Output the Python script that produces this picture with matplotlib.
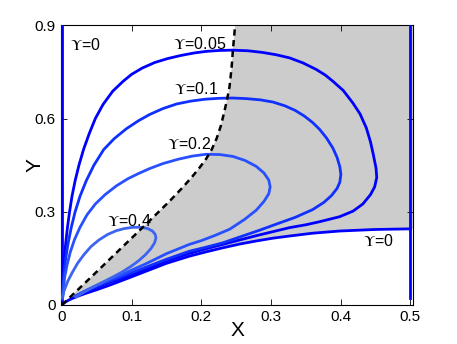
import numpy
import matplotlib
matplotlib.use("Agg")
import matplotlib.pyplot

matplotlib.rcParams["font.family"] = ["Liberation Sans", "DejaVu Sans"]
matplotlib.rcParams["mathtext.fontset"] = "stix"

# Upsilon = 0 : two vertical lines and the lower boundary curve
ups0_left_x = [0.0, 0.0]
ups0_left_y = [0.016, 0.9]
ups0_right_x = [0.5, 0.5]
ups0_right_y = [0.022, 0.9]
ups0_bottom_x = [0.0, 0.004, 0.01, 0.02, 0.035, 0.05, 0.07, 0.09, 0.12, 0.15, 0.183, 0.207, 0.231, 0.255,
                 0.279, 0.303, 0.327, 0.36, 0.3986, 0.45, 0.5]
ups0_bottom_y = [0.0, 0.008, 0.016, 0.026, 0.038, 0.049, 0.065, 0.082, 0.108, 0.134, 0.157, 0.171, 0.184, 0.196,
                 0.206, 0.215, 0.222, 0.231, 0.238, 0.243, 0.245]

ups005_x = [0.001, 0.0012, 0.002, 0.0035, 0.0055, 0.008, 0.011, 0.0145, 0.019, 0.0245, 0.031, 0.039, 0.048,
            0.059, 0.073, 0.088, 0.1, 0.115, 0.133, 0.152, 0.171, 0.19, 0.207, 0.226, 0.245, 0.267, 0.2885,
            0.308, 0.327, 0.346, 0.365, 0.378, 0.389, 0.404, 0.4177, 0.428, 0.437, 0.443, 0.447, 0.451, 0.452,
            0.449, 0.443, 0.432, 0.418, 0.3986, 0.37, 0.35, 0.327, 0.303, 0.279, 0.255, 0.231, 0.207, 0.183,
            0.15, 0.12, 0.09, 0.065, 0.045, 0.03, 0.02]
ups005_y = [0.02, 0.05, 0.1, 0.15, 0.2, 0.25, 0.3, 0.35, 0.4, 0.45, 0.5, 0.55, 0.6,
            0.645, 0.688, 0.72, 0.742, 0.762, 0.78, 0.793, 0.803, 0.811, 0.816, 0.819, 0.82, 0.818, 0.8125,
            0.805, 0.795, 0.779, 0.758, 0.74, 0.72, 0.69, 0.65, 0.615, 0.57, 0.525, 0.485, 0.44, 0.41,
            0.38, 0.355, 0.325, 0.302, 0.284, 0.268, 0.258, 0.249, 0.236, 0.223, 0.209, 0.195, 0.181, 0.166,
            0.142, 0.115, 0.09, 0.07, 0.053, 0.038, 0.027]

ups01_x = [0.001, 0.0015, 0.003, 0.0055, 0.009, 0.0135, 0.019, 0.026, 0.035, 0.046, 0.06, 0.075, 0.0925, 0.11,
           0.126, 0.145, 0.165, 0.185, 0.205, 0.225, 0.245, 0.265, 0.285, 0.303, 0.32, 0.335, 0.348, 0.36,
           0.37, 0.38, 0.389, 0.395, 0.399, 0.4005, 0.399, 0.395, 0.387, 0.376, 0.36, 0.335, 0.31, 0.283,
           0.257, 0.231, 0.207, 0.183, 0.15, 0.12, 0.09, 0.065, 0.045, 0.03, 0.02]
ups01_y = [0.02, 0.05, 0.1, 0.15, 0.2, 0.25, 0.3, 0.35, 0.4, 0.45, 0.5, 0.535, 0.567, 0.593,
           0.613, 0.632, 0.647, 0.656, 0.662, 0.665, 0.666, 0.664, 0.66, 0.653, 0.641, 0.626, 0.608, 0.587,
           0.565, 0.537, 0.505, 0.475, 0.445, 0.42, 0.395, 0.375, 0.352, 0.33, 0.307, 0.282, 0.262, 0.24,
           0.22, 0.2, 0.186, 0.173, 0.147, 0.121, 0.095, 0.074, 0.056, 0.04, 0.028]

ups02_x = [0.001, 0.002, 0.004, 0.0075, 0.012, 0.018, 0.026, 0.036, 0.048, 0.062, 0.078, 0.0945, 0.11, 0.126,
           0.145, 0.167, 0.187, 0.207, 0.227, 0.2455, 0.263, 0.279, 0.29, 0.297, 0.299, 0.297, 0.29, 0.279,
           0.262, 0.241, 0.22, 0.2, 0.183, 0.15, 0.12, 0.09, 0.065, 0.045, 0.03, 0.02]
ups02_y = [0.02, 0.05, 0.09, 0.13, 0.17, 0.21, 0.25, 0.29, 0.325, 0.355, 0.383, 0.406, 0.423, 0.439,
           0.455, 0.469, 0.479, 0.485, 0.484, 0.478, 0.465, 0.446, 0.425, 0.402, 0.38, 0.358, 0.333, 0.305,
           0.275, 0.244, 0.224, 0.207, 0.195, 0.165, 0.132, 0.102, 0.079, 0.058, 0.042, 0.03]

ups04_x = [0.001, 0.003, 0.0083, 0.015, 0.0227, 0.032, 0.0418, 0.053, 0.0657, 0.078, 0.0897, 0.102, 0.1135,
           0.123, 0.13, 0.134, 0.135, 0.133, 0.128, 0.12, 0.11, 0.099, 0.087, 0.074, 0.06, 0.045, 0.032, 0.02]
ups04_y = [0.027, 0.045, 0.076, 0.105, 0.135, 0.163, 0.188, 0.209, 0.227, 0.239, 0.246, 0.25, 0.25,
           0.246, 0.238, 0.227, 0.215, 0.2, 0.182, 0.162, 0.142, 0.124, 0.107, 0.091, 0.075, 0.058, 0.042, 0.025]

dashed_x = [0.0, 0.05, 0.1, 0.13, 0.155, 0.172, 0.186, 0.197, 0.207, 0.215, 0.222, 0.228, 0.233, 0.237, 0.2405,
            0.2435, 0.2455, 0.2475, 0.249]
dashed_y = [0.0, 0.107, 0.215, 0.28, 0.335, 0.375, 0.41, 0.44, 0.47, 0.5, 0.535, 0.575, 0.62, 0.66, 0.7,
            0.76, 0.82, 0.87, 0.91]

labels = ["0", "0.05", "0.1", "0.2", "0.4", "0"]
label_x = [0.0112, 0.198, 0.193, 0.183, 0.0974, 0.4545]
label_y = [0.837, 0.839, 0.694, 0.519, 0.271, 0.206]

xticks = [0, 0.1, 0.2, 0.3, 0.4, 0.5]
yticks = [0, 0.3, 0.6, 0.9]


figure = matplotlib.pyplot.figure(figsize=(4.57, 3.44), dpi=100)
axis = figure.add_axes([0.1324, 0.1134, 0.772, 0.8131])

# shaded region: right of dashed curve, above the Upsilon=0 boundary
fill_x = numpy.concatenate([dashed_x, [0.52, 0.52], ups0_bottom_x[::-1]])
fill_y = numpy.concatenate([dashed_y, [0.91, ups0_bottom_y[-1]], ups0_bottom_y[::-1]])
axis.fill(fill_x, fill_y, color="#cccccc", linewidth=0, zorder=1)

blue = "#0000ff"
axis.plot(ups0_left_x, ups0_left_y, color=blue, linewidth=2.0, zorder=3)
axis.plot(ups0_right_x, ups0_right_y, color=blue, linewidth=2.0, zorder=3)
axis.plot(ups0_bottom_x, ups0_bottom_y, color=blue, linewidth=2.0, zorder=3)
axis.plot(ups005_x, ups005_y, color="#0000ff", linewidth=2.0, zorder=3)
axis.plot(ups01_x, ups01_y, color="#1030ff", linewidth=2.0, zorder=3)
axis.plot(ups02_x, ups02_y, color="#2850ff", linewidth=2.0, zorder=3)
axis.plot(ups04_x, ups04_y, color="#3c64f0", linewidth=2.0, zorder=3)
axis.plot(dashed_x, dashed_y, color="black", linewidth=1.8, dashes=(2.5, 1.8), zorder=4)

for text, x, y in zip(labels, label_x, label_y):
    ha = "left" if x < 0.05 else "center"
    axis.text(x, y, r"$\Upsilon$=" + text, fontsize=11.5, ha=ha, va="center", zorder=5)

axis.set_xlim(-0.002, 0.5045)
axis.set_ylim(0, 0.9)
axis.set_xticks(xticks)
axis.set_xticklabels(["0", "0.1", "0.2", "0.3", "0.4", "0.5"])
axis.set_yticks(yticks)
axis.set_yticklabels(["0", "0.3", "0.6", "0.9"])
axis.tick_params(direction="in", top=True, right=True, labelsize=11, length=4, width=0.6)
for spine in axis.spines.values():
    spine.set_linewidth(0.8)
axis.set_xlabel("X", fontsize=15)
axis.set_ylabel("Y", fontsize=15)
axis.xaxis.set_label_coords(0.502, -0.058)
axis.yaxis.set_label_coords(-0.045, 0.5)

figure.savefig("out.png", dpi=100)
